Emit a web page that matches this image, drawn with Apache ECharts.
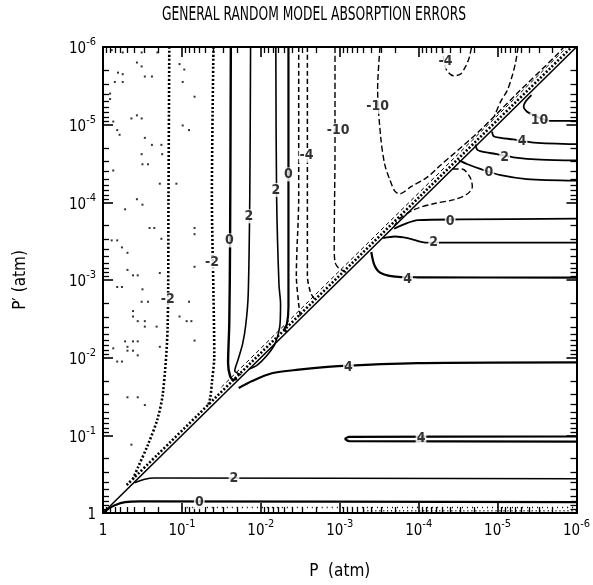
<!DOCTYPE html>
<html><head><meta charset="utf-8">
<script src="https://cdn.jsdelivr.net/npm/echarts@6/dist/echarts.min.js"></script>
<style>html,body{margin:0;padding:0;background:#fff;overflow:hidden}#c{width:593px;height:585px}</style>
</head><body><div id="c"></div>
<script>
// All contour points are [log10(P), log10(P')]
const titleText = 'GENERAL RANDOM MODEL ABSORPTION ERRORS';
const xName = 'P  (atm)';
const yName = 'P\u2032 (atm)';
const axisMin = 1e-6, axisMax = 1;
// minor tick marks: mantissas inside each decade
const tickMantissas = [2,3,4,5,6,7,8,9];
const tickDecades = [1e-6,1e-5,1e-4,1e-3,1e-2,1e-1];

// --- solid contours, region P' > P (lower right) ---
const c0Low  = [[0,0],[-0.06,-0.05],[-0.15,-0.10],[-0.28,-0.14],[-0.47,-0.15],[-6,-0.14]];
const c2Low  = [[-0.40,-0.39],[-0.53,-0.435],[-0.65,-0.45],[-6,-0.44]];
const c4Loop = [[-6,-0.985],[-3.12,-0.98],[-3.07,-0.955],[-3.12,-0.925],[-6,-0.92]];
const c4Mid  = [[-1.72,-1.61],[-1.89,-1.70],[-2.14,-1.80],[-2.48,-1.845],[-2.98,-1.89],[-3.99,-1.93],[-6,-1.94]];
const c4Up   = [[-3.40,-3.36],[-3.44,-3.19],[-3.52,-3.09],[-3.74,-3.04],[-3.99,-3.035],[-6,-3.03]];
const c2Up   = [[-3.55,-3.54],[-3.70,-3.56],[-3.86,-3.54],[-4.11,-3.48],[-4.28,-3.48],[-6,-3.48]];
const c0Up   = [[-3.69,-3.66],[-3.82,-3.72],[-3.99,-3.77],[-4.53,-3.78],[-6,-3.79]];
const c0Top  = [[-4.51,-4.54],[-4.62,-4.49],[-4.78,-4.43],[-5.04,-4.35],[-5.37,-4.30],[-6,-4.28]];
const c2Top  = [[-4.72,-4.745],[-4.74,-4.68],[-4.78,-4.66],[-4.99,-4.62],[-5.20,-4.58],[-5.54,-4.55],[-6,-4.54]];
const c4Top  = [[-4.93,-4.91],[-4.95,-4.85],[-5.04,-4.83],[-5.20,-4.81],[-5.46,-4.77],[-6,-4.75]];
const c10Top = [[-5.43,-5.38],[-5.35,-5.29],[-5.33,-5.23],[-5.37,-5.17],[-5.46,-5.12],[-5.66,-5.05],[-6,-5.05]];

// --- contours, region P' < P (upper left) ---
const c0Left  = [[-1.62,-6],[-1.61,-3.44],[-1.60,-2.43],[-1.585,-1.93],[-1.61,-1.765],[-1.65,-1.715],[-1.70,-1.73]];
const c2LeftA = [[-1.87,-6],[-1.86,-4.07],[-1.84,-2.81],[-1.81,-2.43],[-1.77,-2.18],[-1.71,-1.97],[-1.67,-1.83],[-1.75,-1.78]];
const c2LeftB = [[-2.19,-6],[-2.20,-4.07],[-2.23,-2.94],[-2.25,-2.69],[-2.24,-2.40],[-2.18,-2.18],[-2.08,-2.03],[-1.95,-1.90],[-1.85,-1.855]];
const c0LeftB = [[-2.35,-6],[-2.35,-4.07],[-2.35,-2.65],[-2.33,-2.43],[-2.30,-2.37],[-2.33,-2.33]];
const cm2Outer = [[-0.84,-6],[-0.83,-4.07],[-0.82,-2.43],[-0.76,-1.55],[-0.69,-1.21],[-0.57,-0.88],[-0.44,-0.58],[-0.38,-0.44]];
const cm2Inner = [[-1.40,-6],[-1.38,-4.07],[-1.40,-2.81],[-1.41,-2.02],[-1.38,-1.68],[-1.36,-1.49],[-1.33,-1.375]];
const cm4A = [[-2.48,-6],[-2.48,-4.07],[-2.45,-3.06],[-2.48,-2.69],[-2.50,-2.535]];
const cm4B = [[-2.59,-6],[-2.59,-4.07],[-2.59,-3.06],[-2.63,-2.84],[-2.69,-2.74]];
const cm10A = [[-2.94,-6],[-2.94,-4.70],[-2.93,-3.44],[-2.94,-3.23],[-2.99,-3.15],[-3.08,-3.10]];
const cm10B = [[-3.51,-6],[-3.48,-5.46],[-3.52,-4.83],[-3.57,-4.49],[-3.635,-4.29],[-3.70,-4.14],[-3.76,-4.11],[-3.90,-4.20],[-4.11,-4.325],[-4.28,-4.48],[-4.74,-4.89],[-5.245,-5.40],[-5.75,-5.90],[-5.84,-6]];
const cm4Top = [[-4.30,-6],[-4.31,-5.89],[-4.35,-5.71],[-4.44,-5.63],[-4.53,-5.65],[-4.59,-5.74],[-4.64,-5.86],[-4.67,-6]];
const cmTopRight = [[-5.26,-6],[-5.23,-5.81],[-5.18,-5.61],[-5.12,-5.435],[-5.04,-5.30],[-4.96,-5.11]];
const cmLoop = [[-4.43,-4.43],[-4.55,-4.43],[-4.65,-4.325],[-4.68,-4.20],[-4.62,-4.11],[-4.45,-4.035],[-4.20,-3.985],[-3.95,-3.91],[-3.77,-3.80],[-3.69,-3.695]];

// diagonal P = P' and the hatched band beside it
const diagonal = [[0,0],[-6,-6]];
const hatchBand = [[-0.3,-0.36],[-5.94,-6]];
const dashBand = [[-1.5,-1.62],[-5.88,-6]];
// stippled band along the bottom
const stippleA = [[-1.0,-0.07],[-6,-0.07]];
const stippleB = [[-3.3,-0.03],[-6,-0.03]];

// scattered stipple dots in the upper-left region
const stippleDots = [
 [-0.11,-5.96],[-0.25,-5.93],[-0.49,-5.93],[-0.69,-5.93],[-0.43,-5.80],[-0.49,-5.75],[-0.19,-5.67],[-0.25,-5.65],
 [-0.53,-5.62],[-0.62,-5.62],[-0.15,-5.55],[-0.25,-5.55],[-0.09,-5.40],[-0.09,-5.33],[-0.97,-5.78],[-1.03,-5.71],
 [-1.01,-5.55],[-1.16,-5.36],[-0.36,-5.08],[-0.43,-5.12],[-0.49,-5.08],[-0.13,-5.04],[-0.18,-4.93],[-0.21,-4.87],
 [-0.53,-4.83],[-0.62,-4.74],[-1.01,-4.99],[-1.09,-4.93],[-0.74,-4.74],[-0.75,-4.62],[-0.49,-4.62],[-0.50,-4.49],
 [-0.57,-4.49],[-0.13,-4.41],[-0.72,-4.24],[-0.93,-4.24],[-0.43,-4.04],[-0.28,-3.91],[-0.50,-3.97],[-0.59,-3.67],
 [-0.65,-3.67],[-0.11,-3.51],[-0.18,-3.51],[-0.24,-3.42],[-0.31,-3.35],[-0.74,-3.53],[-1.16,-3.67],[-1.16,-3.59],
 [-1.16,-3.17],[-0.31,-3.13],[-0.38,-3.06],[-0.44,-3.06],[-0.72,-3.09],[-0.18,-2.91],[-0.24,-2.91],[-0.50,-2.88],
 [-0.49,-2.72],[-0.57,-2.72],[-0.38,-2.60],[-0.38,-2.53],[-0.44,-2.47],[-0.53,-2.47],[-0.53,-2.40],[-0.68,-2.40],
 [-0.97,-2.53],[-1.06,-2.47],[-1.12,-2.47],[-1.09,-2.72],[-0.28,-2.21],[-0.31,-2.14],[-0.38,-2.21],[-0.44,-2.21],
 [-0.31,-2.09],[-0.38,-2.09],[-0.44,-2.03],[-0.13,-2.12],[-0.18,-1.95],[-0.24,-1.95],[-0.72,-2.14],[-1.16,-2.22],
 [-0.31,-1.49],[-0.44,-1.49],[-0.53,-1.39],[-0.36,-0.88]
];

// contour labels: [log10 P, log10 P', text]
const contourLabels = [
 [-1.22,-0.14,'0'],[-1.66,-0.44,'2'],[-4.03,-0.955,'4'],[-3.11,-1.88,'4'],[-3.86,-3.01,'4'],
 [-4.19,-3.48,'2'],[-4.40,-3.76,'0'],[-4.89,-4.39,'0'],[-5.09,-4.58,'2'],[-5.31,-4.78,'4'],[-5.53,-5.06,'10'],
 [-0.82,-2.75,'-2'],[-1.38,-3.23,'-2'],[-1.60,-3.51,'0'],[-1.85,-3.82,'2'],[-2.19,-4.16,'2'],[-2.35,-4.36,'0'],
 [-2.58,-4.60,'-4'],[-2.98,-4.93,'-10'],[-3.48,-5.23,'-10'],[-4.34,-5.81,'-4']
];

const FONT = '"Liberation Sans Narrow","DejaVu Sans Condensed","Liberation Sans",Arial,sans-serif';
const toP = arr => arr.map(d => [Math.pow(10, d[0]), Math.pow(10, d[1])]);
const minorTickValues = [];
tickDecades.forEach(d => tickMantissas.forEach(m => minorTickValues.push(+(m * d).toPrecision(3))));

function line(data, type, width) {
  return {type:'line', data: toP(data), showSymbol:false, symbol:'none', smooth:0.3, clip:true,
    lineStyle:{color:'#000', width: width, type: type}, silent:true, z:3};
}

const series = [
  line(diagonal,'solid',1.6),
  line(hatchBand,[2,2],2.6),
  line(dashBand,[4,3],1),
  line(stippleA,[1,4],1.5),
  line(stippleB,[1,3],1.5),
  line(c0Low,'solid',2.2), line(c2Low,'solid',1.5), line(c4Loop,'solid',2.2),
  line(c4Mid,'solid',2.2), line(c4Up,'solid',2.2), line(c2Up,'solid',1.8), line(c0Up,'solid',1.8),
  line(c0Top,'solid',1.8), line(c2Top,'solid',1.8), line(c4Top,'solid',1.8), line(c10Top,'solid',1.8),
  line(c0Left,'solid',2.4), line(c2LeftA,'solid',1.6), line(c2LeftB,'solid',1.6), line(c0LeftB,'solid',2.2),
  line(cm2Outer,[2,2],2.6), line(cm2Inner,[2,2],2.6),
  line(cm4A,[5,3],1.5), line(cm4B,[5,3],1.5), line(cm10A,[6,3],1.4), line(cm10B,[6,3],1.4),
  line(cm4Top,[6,3],1.4), line(cmTopRight,[6,3],1.4), line(cmLoop,[6,3],1.4),
  {type:'scatter', data: toP(stippleDots), symbol:'rect', symbolSize:2, itemStyle:{color:'#000'}, silent:true, z:2},
  {type:'scatter', symbolSize:0, silent:true, z:10,
   data: contourLabels.map(d => ({value:[Math.pow(10,d[0]), Math.pow(10,d[1])], name:d[2]})),
   label:{show:true, position:'inside', formatter: p => p.name, color:'#000',
     fontFamily:FONT, fontSize:14, fontWeight:'bold', backgroundColor:'#fff', padding:[0,1]}}
];

function expLabel(v){
  const e = Math.round(Math.log10(v));
  if (e === 0) return '{b|1}';
  return '{b|10}{s|' + e + '}';
}
const rich = {
  b:{fontFamily:FONT, fontSize:15, color:'#000', lineHeight:20, verticalAlign:'bottom'},
  s:{fontFamily:FONT, fontSize:11, color:'#000', lineHeight:11, verticalAlign:'top'}
};
function logAxis(extra){
  return Object.assign({
    type:'log', logBase:10, min:axisMin, max:axisMax, inverse:true, splitNumber:6,
    axisLine:{show:true, onZero:false, lineStyle:{color:'#000', width:2}},
    axisTick:{show:true, inside:true, length:10, lineStyle:{color:'#000', width:1.6}},
    splitLine:{show:false}
  }, extra);
}
function minorAxis(pos){
  return logAxis({position:pos, axisLabel:{show:false},
    axisTick:{show:true, inside:true, length:6, customValues:minorTickValues, lineStyle:{color:'#000', width:1.3}}});
}

const chart = echarts.init(document.getElementById('c'), null, {renderer:'canvas'});
chart.setOption({
  backgroundColor:'#fff',
  animation:false,
  graphic:[{type:'text', x:314, y:6, scaleX:0.72, silent:true,
    style:{text:titleText, textAlign:'center', fill:'#000', fontFamily:FONT, fontSize:19, fontWeight:'normal'}}],
  grid:{left:103, right:13, top:47, bottom:62, containLabel:false},
  xAxis:[
    logAxis({position:'bottom', name:xName, nameLocation:'middle', nameGap:50,
      nameTextStyle:{fontFamily:FONT, fontSize:17, color:'#000'},
      axisLabel:{formatter:expLabel, rich:rich, margin:6}}),
    logAxis({position:'top', axisLabel:{show:false}}),
    minorAxis('bottom'), minorAxis('top')
  ],
  yAxis:[
    logAxis({position:'left', name:yName, nameLocation:'middle', nameGap:74, nameRotate:90,
      nameTextStyle:{fontFamily:FONT, fontSize:17, color:'#000'},
      axisLabel:{formatter:expLabel, rich:rich, margin:7}}),
    logAxis({position:'right', axisLabel:{show:false}}),
    minorAxis('left'), minorAxis('right')
  ],
  series: series
});
</script></body></html>
